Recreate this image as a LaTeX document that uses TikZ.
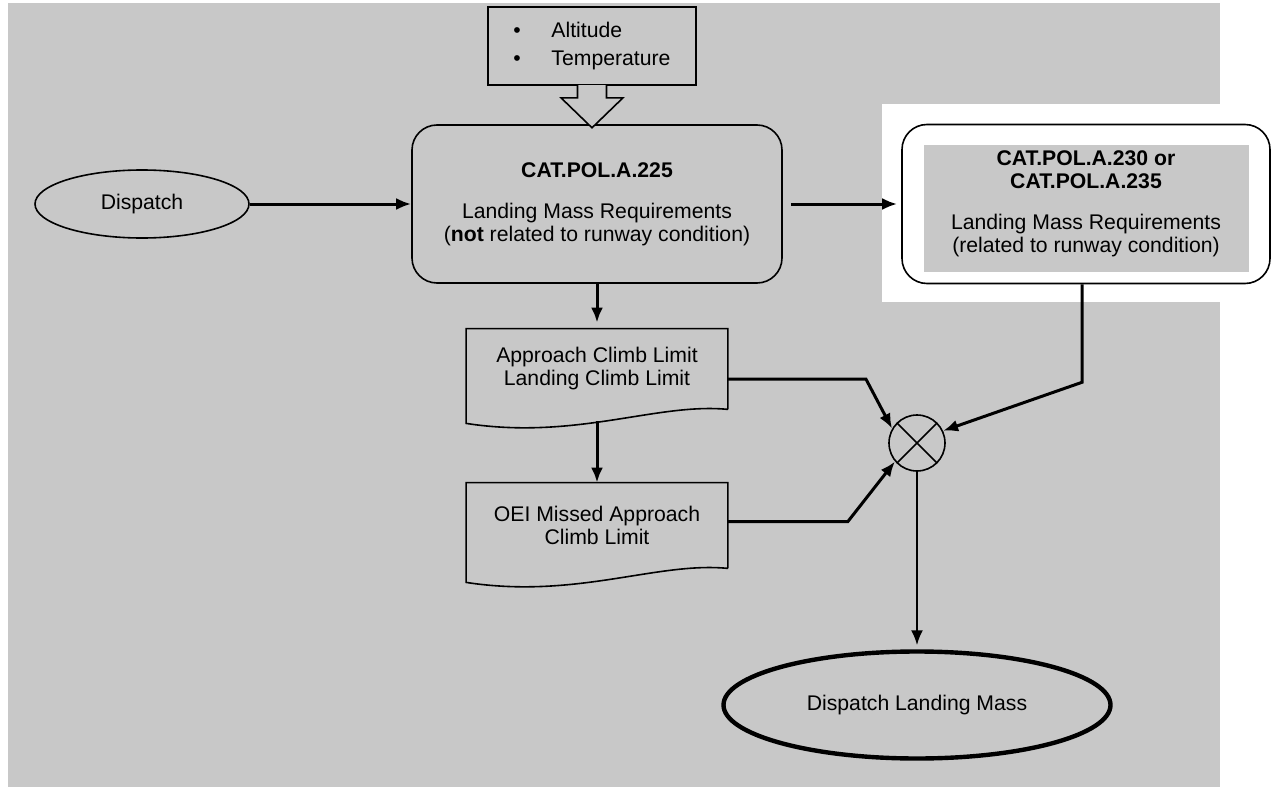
\documentclass[tikz,border=0pt]{standalone}
\usepackage{fontspec}
\setmainfont{Liberation Sans}
\usetikzlibrary{shapes.geometric,arrows.meta}
\definecolor{bggray}{RGB}{200,200,200}

\tikzstyle{every node} = [font=\fontsize{10.6}{11.5}\selectfont]
\tikzstyle{term} = [draw, ellipse, line width=0.8pt, inner sep=0pt,
    minimum width=107pt, minimum height=34pt]
\tikzstyle{block} = [draw, rectangle, rounded corners=12.5pt, line width=0.8pt,
    minimum width=185pt, minimum height=79pt, align=center]
\tikzstyle{input} = [draw, rectangle, line width=0.8pt,
    minimum width=104pt, minimum height=39pt, align=left]
\tikzstyle{limit} = [rectangle, minimum width=130.5pt, minimum height=40pt, align=center]
\tikzstyle{mult} = [draw, circle, line width=0.8pt, minimum size=28pt, inner sep=0pt]
\tikzstyle{flow} = [draw, line width=1.5pt, ->]

\begin{document}
\begin{tikzpicture}[auto, x=0.5pt, y=-0.5pt, node distance=80pt,
    >={Latex[length=7.5pt,width=6pt]}]
    % background
    \useasboundingbox (0,0) rectangle (1276,787);
    \fill [bggray] (8,3) rectangle (1220,787);
    \fill [white] (882,104) rectangle (1220,302);

    % We start by placing the blocks
    \node [term] (dispatch) at (142,204) {Dispatch};
    \node [block, right of=dispatch, node distance=227.5pt] (cat225)
        {\textbf{CAT.POL.A.225}\\[9pt] Landing Mass Requirements\\
         (\textbf{not} related to runway condition)};
    \node [block, fill=white, minimum width=184pt, minimum height=79.5pt,
        right of=cat225, node distance=244.5pt] (cat230) {};
    \fill [bggray] ([shift={(11.5pt,6pt)}]cat230.south west)
        rectangle ([shift={(-11pt,-10.5pt)}]cat230.north east);
    \node [align=center] (cat230txt) at (cat230)
        {\textbf{CAT.POL.A.230 or}\\\textbf{CAT.POL.A.235}\\[9pt]
         Landing Mass Requirements\\(related to runway condition)};
    \node [input, above of=cat225, node distance=79pt, xshift=-2.5pt] (inputs)
        {\makebox[19pt][l]{\textbullet}Altitude\\[2.5pt]
         \makebox[19pt][l]{\textbullet}Temperature};
    \draw [line width=0.8pt, fill=bggray, shift={(inputs.south)}]
        (-7.25pt,0.4pt) -- (-7.25pt,-6pt) -- (-15.5pt,-6pt) -- (0pt,-21pt)
        -- (15.5pt,-6pt) -- (7.25pt,-6pt) -- (7.25pt,0.4pt);

    \node [limit, below of=cat225, node distance=82.5pt] (approach)
        {Approach Climb Limit\\Landing Climb Limit};
    \node [limit, minimum height=42.5pt, below of=approach, node distance=78.25pt] (oei)
        {OEI Missed Approach\\Climb Limit};
    \foreach \n in {approach, oei}
        \draw [line width=0.8pt] (\n.south east) -- (\n.north east) -- (\n.north west)
            -- ([yshift=-7pt]\n.south west)
            .. controls +(55pt,-8.5pt) and +(-35.5pt,3.5pt) .. (\n.south east);

    \node [mult] (circ) at (917,443) {};
    \draw [line width=0.8pt] (circ.45) -- (circ.225) (circ.135) -- (circ.315);
    \node [term, line width=2.2pt, minimum width=193.5pt, minimum height=53.5pt,
        below of=circ, node distance=131pt] (landing) {Dispatch Landing Mass};

    % connectors
    \draw [flow] (dispatch) -- (cat225);
    \draw [flow, shorten <=4pt, shorten >=2pt] (cat225) -- (cat230);
    \draw [flow, shorten >=3pt] (cat225) -- (approach);
    \draw [flow] ([yshift=-6pt]approach.south) -- (oei);
    \draw [flow] ([yshift=-5pt]approach.east) -- ++(69pt,0pt) -- (circ.150);
    \draw [flow] ([yshift=2pt]oei.east) -- ++(60pt,0pt) -- (circ.220);
    \draw [flow] ([xshift=-2pt]cat230.south) -- ++(0pt,-49pt) -- (circ.25);
    \draw [flow, line width=1.2pt, shorten >=2pt] (circ) -- (landing);
\end{tikzpicture}
\end{document}
